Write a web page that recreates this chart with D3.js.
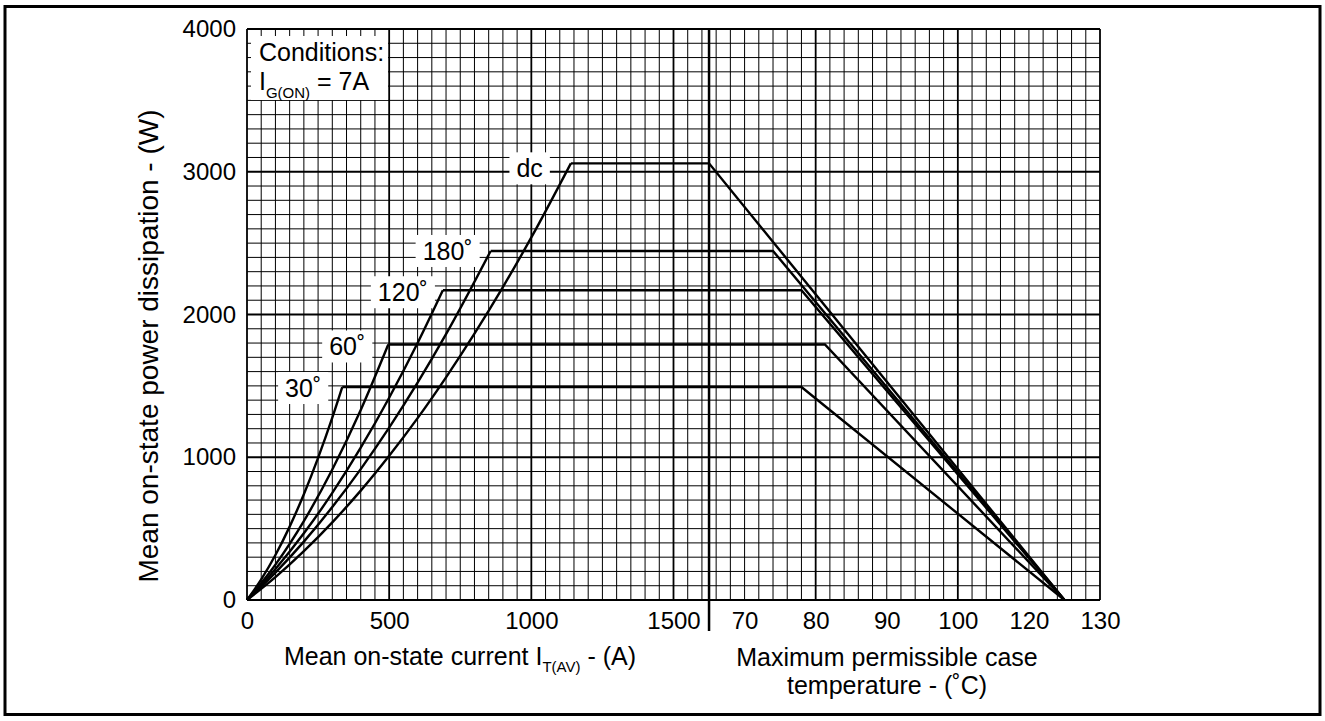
<!DOCTYPE html>
<html>
<head>
<meta charset="utf-8">
<script src="https://cdn.jsdelivr.net/npm/d3@7"></script>
<style>
  body { margin: 0; background: #fff; }
  svg text { font-family: "Liberation Sans", Arial, sans-serif; fill: #000; }
</style>
</head>
<body>
<div id="chart"></div>
<script>
// tick labels
const currentTicks = [0, 500, 1000, 1500]
const tempTicks = [70, 80, 90, 100, 120, 130]
const powerTicks = [0, 1000, 2000, 3000, 4000]

// rising part of each curve, [current A, power W]
const seriesNames = ["30˚", "60˚", "120˚", "180˚", "dc"]
const rise30 = [[0, 0], [50, 144], [100, 315], [150, 514], [200, 741], [250, 996], [300, 1278], [335, 1492]]
const rise60 = [[0, 0], [100, 248], [200, 553], [300, 914], [400, 1331], [497, 1790]]
const rise120 = [[0, 0], [100, 217], [200, 467], [300, 750], [400, 1067], [500, 1417], [600, 1800], [689, 2170]]
const rise180 = [[0, 0], [100, 192], [200, 409], [300, 651], [400, 917], [500, 1207], [600, 1522], [700, 1862], [857, 2445]]
const riseDc = [[0, 0], [100, 160], [200, 342], [300, 544], [400, 766], [500, 1010], [600, 1274], [700, 1560], [800, 1866], [900, 2192], [1000, 2540], [1139, 3059]]
// case temperature where the flat part ends (˚C, on the printed scale)
const kneeTemp = [78, 81.3, 78, 74, 65]
const maxCaseTemp = 125

const rises = [rise30, rise60, rise120, rise180, riseDc]

// layout
const W = 1325, H = 721
const plot = {left: 247, top: 29, right: 1100, bottom: 600}
const labelDx = [-21, -23, -15, -18, -28]
const labelDy = [1, 2, 2, 0, 5]
const fontSize = 25, tickSize = 24, subSize = 15

const units = d3.scaleLinear().domain([0, 60]).range([plot.left, plot.right])
const xI = d3.scaleLinear().domain([0, 1625]).range([units(0), units(32.5)])
const xT = d3.scaleLinear()
  .domain([65, 70, 80, 90, 100, 120, 130])
  .range([32.5, 35, 40, 45, 50, 55, 60].map(units))
const y = d3.scaleLinear().domain([0, 4000]).range([plot.bottom, plot.top])

const svg = d3.select("#chart").append("svg")
  .attr("width", W)
  .attr("height", H)

// outer frame
svg.append("rect")
  .attr("x", 5).attr("y", 6.5)
  .attr("width", 1315).attr("height", 708)
  .attr("fill", "none").attr("stroke", "#000").attr("stroke-width", 3)

// grid
const grid = svg.append("g")
d3.range(0, 61).forEach(i => {
  grid.append("line")
    .attr("x1", units(i)).attr("x2", units(i))
    .attr("y1", plot.top).attr("y2", plot.bottom)
    .attr("stroke", "#000")
    .attr("stroke-width", i % 10 === 0 ? 1.8 : 1)
})
y.ticks(40).forEach(v => {
  grid.append("line")
    .attr("x1", plot.left).attr("x2", plot.right)
    .attr("y1", y(v)).attr("y2", y(v))
    .attr("stroke", "#000")
    .attr("stroke-width", v % 1000 === 0 ? 1.8 : 1)
})

// divider between the current and temperature parts
svg.append("line")
  .attr("x1", xI(1625)).attr("x2", xI(1625))
  .attr("y1", plot.top).attr("y2", 631)
  .attr("stroke", "#000").attr("stroke-width", 2.5)

// conditions box
svg.append("rect")
  .attr("x", 251).attr("y", 36).attr("width", 137).attr("height", 64)
  .attr("fill", "#fff")
svg.append("text")
  .attr("x", 259).attr("y", 61)
  .attr("font-size", fontSize)
  .text("Conditions:")
const cond = svg.append("text")
  .attr("x", 259).attr("y", 90)
  .attr("font-size", fontSize)
cond.append("tspan").text("I")
cond.append("tspan").attr("dy", 8).attr("font-size", subSize).text("G(ON)")
cond.append("tspan").attr("dy", -8).text(" = 7A")

// curve labels with white boxes
const labels = svg.append("g")
rises.forEach((r, i) => {
  const knee = r[r.length - 1]
  const t = labels.append("text")
    .attr("x", xI(knee[0]) + labelDx[i])
    .attr("y", y(knee[1]) + labelDy[i])
    .attr("text-anchor", "end")
    .attr("dominant-baseline", "central")
    .attr("font-size", fontSize)
    .text(seriesNames[i])
  const b = t.node().getBBox()
  labels.insert("rect", "text")
    .attr("x", b.x - 7).attr("y", b.y - 2)
    .attr("width", b.width + 14).attr("height", b.height + 4)
    .attr("fill", "#fff")
})

// curves
const riseLine = d3.line()
  .x(d => xI(d[0]))
  .y(d => y(d[1]))
  .curve(d3.curveMonotoneX)

const curves = svg.append("g")
  .attr("fill", "none")
  .attr("stroke", "#000")
  .attr("stroke-width", 2.4)

rises.forEach((r, i) => {
  const knee = r[r.length - 1]
  curves.append("path").attr("d", riseLine(r))
  const flat = [
    [xI(knee[0]), y(knee[1])],
    [xT(kneeTemp[i]), y(knee[1])],
    [xT(maxCaseTemp), y(0)]
  ]
  curves.append("path")
    .attr("stroke-linejoin", "miter")
    .attr("d", d3.line()(flat))
})

// axes
const fmt = d3.format("d")
const axisI = svg.append("g")
  .attr("transform", `translate(0,${plot.bottom})`)
  .call(d3.axisBottom(xI).tickValues(currentTicks).tickFormat(fmt).tickSize(0).tickPadding(12))
const axisT = svg.append("g")
  .attr("transform", `translate(0,${plot.bottom})`)
  .call(d3.axisBottom(xT).tickValues(tempTicks).tickFormat(fmt).tickSize(0).tickPadding(12))
const axisY = svg.append("g")
  .attr("transform", `translate(${plot.left},0)`)
  .call(d3.axisLeft(y).tickValues(powerTicks).tickFormat(fmt).tickSize(0).tickPadding(11))

;[axisI, axisT, axisY].forEach(a => {
  a.select(".domain").remove()
  a.selectAll("text")
    .attr("font-size", tickSize)
    .attr("font-family", null)
    .attr("fill", "#000")
})

// axis titles
const xTitle = svg.append("text")
  .attr("x", 460).attr("y", 665)
  .attr("text-anchor", "middle")
  .attr("font-size", fontSize)
xTitle.append("tspan").text("Mean on-state current I")
xTitle.append("tspan").attr("dy", 7).attr("font-size", subSize).text("T(AV)")
xTitle.append("tspan").attr("dy", -7).text(" - (A)")

svg.append("text")
  .attr("x", 887).attr("y", 666)
  .attr("text-anchor", "middle")
  .attr("font-size", fontSize)
  .text("Maximum permissible case")
svg.append("text")
  .attr("x", 887).attr("y", 694)
  .attr("text-anchor", "middle")
  .attr("font-size", fontSize)
  .text("temperature - (˚C)")

svg.append("text")
  .attr("transform", "translate(158,346) rotate(-90)")
  .attr("text-anchor", "middle")
  .attr("font-size", 28)
  .text("Mean on-state power dissipation - (W)")
</script>
</body>
</html>
